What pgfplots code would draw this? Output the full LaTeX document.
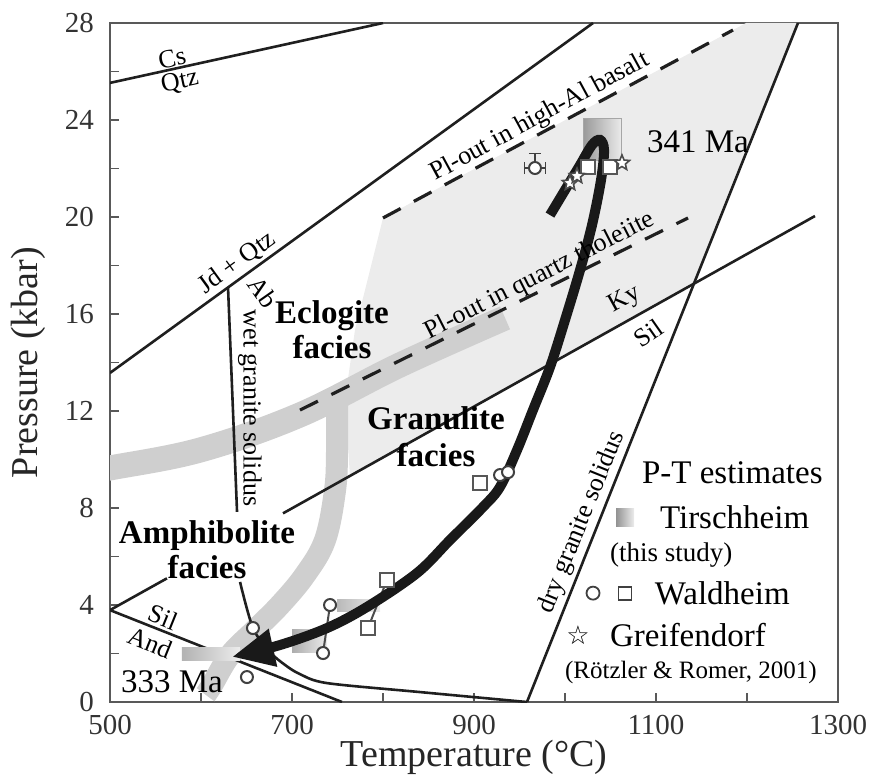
\documentclass[border=0pt]{standalone}
\usepackage{pgfplots}
\pgfplotsset{compat=1.18}
\usepackage{fontspec}
\setmainfont{Liberation Serif}
\newfontfamily\symfont{DejaVu Sans}
\usetikzlibrary{calc,arrows.meta}

\definecolor{regiongray}{gray}{0.925}
\definecolor{bandgray}{gray}{0.81}
\definecolor{ink}{gray}{0.12}
\definecolor{framegray}{gray}{0.35}

\pgfdeclareplotmark{ostar}{%
 \pgfpathmoveto{\pgfpointpolar{90}{\pgfplotmarksize}}%
 \pgfpathlineto{\pgfpointpolar{126}{0.45\pgfplotmarksize}}%
 \pgfpathlineto{\pgfpointpolar{162}{\pgfplotmarksize}}%
 \pgfpathlineto{\pgfpointpolar{198}{0.45\pgfplotmarksize}}%
 \pgfpathlineto{\pgfpointpolar{234}{\pgfplotmarksize}}%
 \pgfpathlineto{\pgfpointpolar{270}{0.45\pgfplotmarksize}}%
 \pgfpathlineto{\pgfpointpolar{306}{\pgfplotmarksize}}%
 \pgfpathlineto{\pgfpointpolar{342}{0.45\pgfplotmarksize}}%
 \pgfpathlineto{\pgfpointpolar{18}{\pgfplotmarksize}}%
 \pgfpathlineto{\pgfpointpolar{54}{0.45\pgfplotmarksize}}%
 \pgfpathclose\pgfusepathqfillstroke}

\newcommand{\sz}[1]{\fontsize{#1}{#1}\selectfont}

\begin{document}
\begin{tikzpicture}
\begin{axis}[
 scale only axis, width=364pt, height=339.5pt,
 xmin=500,xmax=1300,ymin=0,ymax=28,
 xtick={500,700,...,1300}, ytick={0,4,...,28},
 minor xtick={600,800,1000,1200}, minor ytick={2,6,...,26},
 tick pos=left, tick align=inside,
 major tick length=4.5pt, minor tick length=4.5pt,
 every tick/.append style={framegray, line width=0.9pt},
 axis line style={framegray, line width=1pt},
 /pgf/number format/assume math mode=true,
 /pgf/number format/1000 sep={},
 ticklabel style={font=\fontsize{14.5}{16}\selectfont, text=black!80},
 xticklabel style={yshift=-3pt},
 yticklabel style={xshift=-4.5pt},
 xlabel={Temperature (°C)}, ylabel={Pressure (kbar)},
 label style={font=\fontsize{19}{22}\selectfont, text=black!85},
 xlabel style={at={(axis description cs:0.5,-0.081)}, anchor=center},
 ylabel style={at={(axis description cs:-0.1126,0.5)}, anchor=center},
]
% grey eclogite/granulite field
\addplot[draw=none, fill=regiongray] coordinates {(800,19.96) (1199,28) (1256,28) (1142.9,17.32) (763.7,9.32) (758.2,12.45) (769.2,15.34) (785.7,17.81)} --cycle;
% broad grey bands
\addplot[bandgray, line width=12.5pt, smooth, tension=0.6] coordinates {(480,9.5) (500,9.65) (598.9,10.39) (708.8,11.84) (818.7,13.90) (934.1,15.84)};
\addplot[bandgray, line width=11pt, smooth, tension=0.6] coordinates {(749.5,12.6) (749.5,10.39) (747.3,8.74) (736.3,6.68) (714.3,5.24) (686.8,4.00) (659.3,2.97) (631.9,1.94) (612.1,0.70) (605,0.3)};
% reaction lines
\addplot[ink, line width=1.3pt] coordinates {(500,25.53) (800,28)};
\addplot[ink, line width=1.3pt] coordinates {(500,13.57) (1030.8,28)};
\addplot[ink, line width=1.3pt] coordinates {(958.2,0) (1256,28)};
\addplot[ink, line width=1.3pt] coordinates {(500,3.79) (562.6,5.10)};
\addplot[ink, line width=1.3pt] coordinates {(690.1,7.78) (1274.7,20.04)};
\addplot[ink, line width=1.3pt] coordinates {(500,3.79) (754.9,0)};
\addplot[ink, line width=1.3pt] coordinates {(629.7,17.10) (639.6,7.84)};
\addplot[ink, line width=1.3pt, smooth, tension=0.5] coordinates {(642.9,4.95) (657.1,3.05) (675.8,2.06) (692.3,1.53) (708.8,1.15) (738.5,0.78) (840.7,0.41) (958.2,0)};
% dashed Pl-out lines
\addplot[ink, line width=1.6pt, dash pattern=on 10pt off 7.5pt] coordinates {(800,19.96) (1184.6,27.71)};
\addplot[ink, line width=1.6pt, dash pattern=on 10pt off 7.5pt] coordinates {(708.8,12.04) (1135.2,19.96)};
% Tirschheim P-T boxes
\addplot[draw=gray!70, line width=0.5pt, left color=gray!80, right color=gray!15] coordinates {(1019.8,22.35) (1062.6,22.35) (1062.6,24.08) (1019.8,24.08)} --cycle;
\addplot[draw=none, left color=gray!60, right color=gray!15] coordinates {(579.1,1.73) (642.9,1.73) (642.9,2.23) (579.1,2.23)} --cycle;
\addplot[draw=none, left color=gray!65, right color=gray!15] coordinates {(700,2.06) (738.5,2.06) (738.5,2.97) (700,2.97)} --cycle;
\addplot[draw=none, left color=gray!55, right color=gray!15] coordinates {(749.5,3.75) (796.7,3.75) (796.7,4.21) (749.5,4.21)} --cycle;
% connectors
\addplot[ink!80, line width=1pt] coordinates {(741.8,4.0) (734.1,2.02)};
\addplot[ink!80, line width=1pt] coordinates {(804.4,5.03) (783.5,3.05)};
% P-T path
\addplot[black!90, line width=5pt, smooth, tension=0.55, -{Triangle[length=21pt,width=18pt]}] coordinates {(983.5,20.08) (1000.0,21.11) (1016.5,22.14) (1029.7,22.97) (1038.5,23.18) (1042.9,22.76) (1039.6,21.53) (1029.7,19.67) (1016.5,17.81) (1000.0,15.75) (983.5,13.81) (964.8,12.04) (947.3,10.39) (928.6,8.87) (909.9,8.04) (873.6,6.68) (837.4,5.32) (782.4,3.92) (738.5,3.05) (686.8,2.35) (634.1,1.86)};
% Waldheim circles
\addplot[only marks, mark=*, mark size=3pt, mark options={fill=white, draw=ink!85, line width=1pt}] coordinates {(657.1,3.05) (650.5,1.03) (741.8,4.00) (734.1,2.02) (928.6,9.36) (937.4,9.48)};
\addplot[only marks, mark=*, mark size=3pt, mark options={fill=white, draw=ink!85, line width=1pt},
 error bars/.cd, x dir=both, x explicit, y dir=plus, y explicit, error bar style={line width=1pt, ink!85}] coordinates {(967,22.02) +- (12,0.6)};
% Waldheim squares
\addplot[only marks, mark=square*, mark size=3.5pt, mark options={fill=white, draw=ink!75, line width=1pt}] coordinates {(804.4,5.03) (783.5,3.05) (906.6,9.03) (1025.3,22.06) (1049.5,22.06)};
% Greifendorf stars
\addplot[only marks, mark=ostar, mark size=4pt, mark options={fill=white, draw=ink!80, line width=0.8pt}] coordinates {(1005.5,21.40) (1013.2,21.69) (1062.6,22.23)};
% small labels
\node[rotate=12, font=\sz{13}] at (axis cs:568.1,26.56) {Cs};
\node[rotate=12, font=\sz{13}] at (axis cs:576.9,25.57) {Qtz};
\node[rotate=36, font=\sz{13}] at (axis cs:640,18.1) {Jd + Qtz};
\node[rotate=-55, font=\sz{13}] at (axis cs:668,16.9) {Ab};
\node[rotate=-90, font=\sz{13}] at (axis cs:653.8,12.12) {wet granite solidus};
\node[rotate=28.5, font=\sz{13}] at (axis cs:972.5,24.12) {Pl-out in high-Al basalt};
\node[rotate=27, font=\sz{13}] at (axis cs:972.5,17.57) {Pl-out in quartz tholeiite};
\node[rotate=29, font=\sz{13}] at (axis cs:1066,16.6) {Ky};
\node[rotate=35, font=\sz{13}] at (axis cs:1092,15.2) {Sil};
\node[rotate=-22, font=\sz{13}] at (axis cs:558.2,3.50) {Sil};
\node[rotate=-22, font=\sz{13}] at (axis cs:544,2.43) {And};
\node[rotate=68, font=\sz{13}] at (axis cs:1018.7,7.42) {dry granite solidus};
% facies labels
\node[align=center, font=\bfseries\fontsize{16.5}{17.5}\selectfont] at (axis cs:744,15.34) {Eclogite\\facies};
\node[align=center, font=\bfseries\fontsize{16.5}{18.5}\selectfont] at (axis cs:858.2,10.93) {Granulite\\facies};
\node[align=center, font=\bfseries\fontsize{16.5}{17.5}\selectfont] at (axis cs:606.6,6.27) {Amphibolite\\facies};
% ages
\node[anchor=west, font=\sz{16.5}] at (axis cs:1082.4,23.09) {341 Ma};
\node[font=\sz{16.5}] at (axis cs:568.1,0.82) {333 Ma};
% legend text and symbols
\node[anchor=west, font=\sz{16.5}] at (axis cs:1076.9,9.44) {P-T estimates};
\node[inner sep=0pt, minimum size=9pt, left color=gray!85, right color=gray!15] at (axis cs:1066,7.59) {};
\node[anchor=west, font=\sz{16.5}] at (axis cs:1096.7,7.63) {Tirschheim};
\node[anchor=west, font=\sz{13.5}] at (axis cs:1041.8,6.06) {(this study)};
\node[circle, draw=ink!85, line width=0.9pt, inner sep=0pt, minimum size=6.5pt] at (axis cs:1030.8,4.49) {};
\node[rectangle, draw=ink!85, line width=0.9pt, inner sep=0pt, minimum size=6.5pt] at (axis cs:1066,4.49) {};
\node[anchor=west, font=\sz{16.5}] at (axis cs:1091,4.49) {Waldheim};
\node[font=\symfont\sz{13}] at (axis cs:1014.3,2.76) {☆};
\node[anchor=west, font=\sz{16.5}] at (axis cs:1041.8,2.76) {Greifendorf};
\node[anchor=west, font=\sz{12.5}] at (axis cs:992.3,1.20) {(Rötzler \& Romer, 2001)};
\coordinate (ll) at (rel axis cs:0,0);
\coordinate (ur) at (rel axis cs:1,1);
\end{axis}
\pgfresetboundingbox
\path[use as bounding box] ($(ll)+(-55pt,-40pt)$) rectangle ($(ur)+(19.5pt,11.5pt)$);
\end{tikzpicture}
\end{document}
